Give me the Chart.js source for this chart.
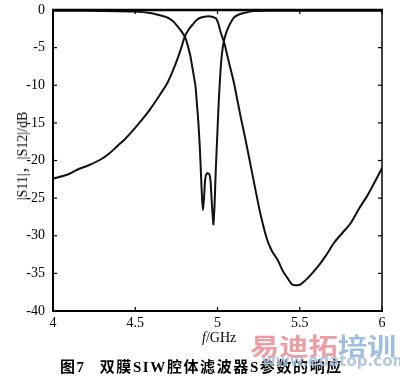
<!DOCTYPE html>
<html><head><meta charset="utf-8">
<script src="https://cdn.jsdelivr.net/npm/chart.js@4/dist/chart.umd.min.js"></script>
<style>
html,body{margin:0;padding:0;background:#fff;}
#wrap{position:relative;width:400px;height:381px;overflow:hidden;}
canvas{position:absolute;left:0;top:0;}
.t{position:absolute;white-space:nowrap;color:#000;}
</style></head><body>
<div id="wrap">
<canvas id="c" width="400" height="381"></canvas>
<div class="t" id="ytitle" style="left:21px;top:156px;font:14px 'Liberation Serif','Noto Sans CJK SC';transform:translate(-50%,-50%) rotate(-90deg);">|S11|，|S12|/dB</div>
<div class="t" style="left:202px;top:330px;font:14px 'Liberation Serif';"><i>f</i>/GHz</div>
<div class="t" style="left:60px;top:355px;font:bold 15px 'Liberation Serif','Noto Sans CJK SC';letter-spacing:1.6px;">图7<span style="display:inline-block;width:14px"></span>双膜SIW腔体滤波器S参数的响应</div>
<div class="t" style="left:250px;top:327px;font:bold 24px 'Noto Sans CJK SC';transform-origin:0 0;transform:scaleX(1.22);letter-spacing:0px;opacity:0.85;"><span style="color:#e98d96">易迪拓</span><span style="color:#8fb2dc">培训</span></div>
<div class="t" style="left:262px;top:352px;font:bold 15px 'DejaVu Sans';color:#a9bfdc;opacity:0.85;">www.edatop.com</div>
</div>
<script>
// ---- data ----
const xTicks = [4, 4.5, 5, 5.5, 6];
const yTicks = [0, -5, -10, -15, -20, -25, -30, -35, -40];

const freqS11 = [4.00,4.20,4.40,4.50,4.59,4.65,4.695,4.73,4.755,4.78,4.805,4.82,4.835,4.85,4.866,4.875,4.884,4.893,4.90,4.906,4.912,4.918,4.925,4.935,4.95,4.958,4.965,4.975,4.982,4.99,5.00,5.008,5.02,5.03,5.04,5.055,5.07,5.085,5.10,5.13,5.16,5.22,5.30,5.60,6.00];
const s11 = [-0.1,-0.1,-0.15,-0.2,-0.4,-0.7,-1.0,-1.5,-2.1,-2.8,-3.7,-4.8,-6.1,-8.0,-10.1,-12.5,-15.0,-18.5,-22.0,-25.0,-26.6,-25.0,-22.5,-21.7,-21.8,-22.8,-25.5,-28.5,-26.0,-21.0,-16.0,-12.0,-7.5,-5.3,-4.0,-2.9,-2.1,-1.5,-1.0,-0.6,-0.4,-0.15,-0.1,-0.1,-0.1];

const freqS21 = [4.00,4.085,4.15,4.22,4.287,4.34,4.39,4.44,4.49,4.54,4.59,4.64,4.695,4.73,4.755,4.78,4.80,4.825,4.85,4.875,4.90,4.93,4.96,4.99,5.005,5.02,5.04,5.07,5.10,5.14,5.17,5.20,5.23,5.26,5.30,5.33,5.365,5.40,5.425,5.455,5.50,5.525,5.55,5.61,5.66,5.71,5.76,5.81,5.86,5.91,5.95,6.00];
const s21 = [-22.4,-21.9,-21.2,-20.6,-19.9,-19.1,-18.1,-17.1,-15.9,-14.6,-13.2,-11.6,-9.7,-8.0,-6.6,-5.0,-3.6,-2.6,-1.9,-1.3,-1.0,-0.85,-0.85,-1.1,-1.8,-3.0,-4.3,-7.0,-9.7,-14.1,-17.2,-20.5,-23.8,-27.0,-30.4,-32.0,-33.2,-34.8,-35.6,-36.5,-36.5,-36.1,-35.6,-34.1,-32.6,-30.9,-29.6,-28.3,-26.4,-24.7,-23.1,-21.0];

const toPts = (xs, ys) => xs.map((x, i) => ({x: x, y: ys[i]}));

const framePlugin = {
  id: 'frame',
  afterDatasetsDraw(chart) {
    const {ctx, chartArea: a, scales} = chart;
    ctx.save();
    ctx.strokeStyle = '#000';
    ctx.lineCap = 'butt';
    const line = (x1, y1, x2, y2, w) => { ctx.lineWidth = w; ctx.beginPath(); ctx.moveTo(x1, y1); ctx.lineTo(x2, y2); ctx.stroke(); };
    line(a.left - 1, a.top, a.right + 1, a.top, 2.5);
    line(a.left, a.top, a.left, a.bottom + 1, 2);
    line(a.left - 1, a.bottom, a.right + 1, a.bottom, 2);
    line(a.right, a.top, a.right, a.bottom + 1, 1.5);
    xTicks.forEach(v => {
      const x = scales.x.getPixelForValue(v);
      line(x, a.bottom, x, a.bottom - 4, 1.2);
      line(x, a.top, x, a.top + 4, 1.2);
    });
    yTicks.forEach(v => {
      const y = scales.y.getPixelForValue(v);
      line(a.left, y, a.left + 4, y, 1.2);
      line(a.right, y, a.right - 4, y, 1.2);
    });
    ctx.restore();
  }
};

new Chart(document.getElementById('c'), {
  type: 'line',
  data: {
    datasets: [
      {label: '|S11|', data: toPts(freqS11, s11), borderColor: '#111', borderWidth: 2, pointRadius: 0, tension: 0.15, fill: false},
      {label: '|S21|', data: toPts(freqS21, s21), borderColor: '#111', borderWidth: 2, pointRadius: 0, tension: 0.3, fill: false}
    ]
  },
  options: {
    responsive: false,
    animation: false,
    events: [],
    layout: {padding: {top: 10, right: 18, left: 0, bottom: 0}},
    plugins: {legend: {display: false}, tooltip: {enabled: false}},
    scales: {
      x: {
        type: 'linear', min: 4, max: 6,
        afterBuildTicks: s => { s.ticks = xTicks.map(v => ({value: v})); },
        afterFit: s => { s.height = 70; s.paddingLeft = 0; s.paddingRight = 0; },
        grid: {display: false, drawTicks: false},
        border: {display: false},
        ticks: {padding: 4, color: '#000', font: {family: "'Liberation Serif'", size: 14}, callback: v => String(v)}
      },
      y: {
        type: 'linear', min: -40, max: 0,
        afterBuildTicks: s => { s.ticks = yTicks.map(v => ({value: v})); },
        afterFit: s => { s.width = 53; s.paddingTop = 0; s.paddingBottom = 0; },
        grid: {display: false, drawTicks: false},
        border: {display: false},
        ticks: {padding: 8, color: '#000', font: {family: "'Liberation Serif'", size: 14}, callback: v => String(v)}
      }
    }
  },
  plugins: [framePlugin]
});
</script>
</body></html>
